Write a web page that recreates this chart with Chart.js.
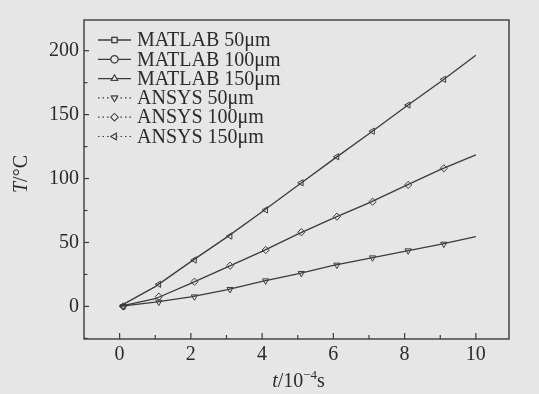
<!DOCTYPE html>
<html><head><meta charset="utf-8">
<script src="https://cdn.jsdelivr.net/npm/chart.js@4/dist/chart.umd.min.js"></script>
<style>html,body{margin:0;padding:0;background:#e7e7e7}#w{width:539px;height:394px;position:relative}</style>
</head><body><div id="w"><canvas id="c"></canvas></div>
<script>
// ---- data (time in 10^-4 s, temperature in °C) ----
const matlabTime = [0, 1, 2, 3, 4, 5, 6, 7, 8, 9, 10];
const matlab50  = [0, 3.3, 7.5, 13, 19.5, 25.5, 32, 37.5, 43, 48.5, 54.5];
const matlab100 = [0, 6, 18, 30.5, 43, 56.5, 69, 81, 94, 107, 118.5];
const matlab150 = [0, 15.5, 35, 54, 74, 94.5, 115, 135, 155.5, 175.5, 196.5];
const ansysTime = [0.1, 1.1, 2.1, 3.1, 4.1, 5.1, 6.1, 7.1, 8.1, 9.1];
const ansys50  = [0, 3.5, 7.6, 13.4, 20.1, 25.9, 32.4, 38.1, 43.6, 48.8];
const ansys100 = [0, 7.6, 19.3, 31.8, 44.1, 58, 70.2, 81.9, 95, 108];
const ansys150 = [0, 17.3, 36.3, 55, 75.5, 96.7, 117, 137, 157.5, 177.6];
const seriesLabels = ['MATLAB 50μm', 'MATLAB 100μm', 'MATLAB 150μm', 'ANSYS 50μm', 'ANSYS 100μm', 'ANSYS 150μm'];
const xTickValues = [0, 1, 2, 3, 4, 5, 6, 7, 8, 9, 10];
const xTickLabels = ['0', '', '2', '', '4', '', '6', '', '8', '', '10'];
const yTickValues = [-25, 0, 25, 50, 75, 100, 125, 150, 175, 200];
const yTickLabels = ['', '0', '', '50', '', '100', '', '150', '', '200'];

const INK = '#3b3b3b';
const FONT = '"Liberation Serif", "Times New Roman", serif';
const pts = (xs, ys) => xs.map((x, i) => ({x, y: ys[i]}));

const styles = [
  {pointStyle: 'rect', rotation: 0, dash: []},
  {pointStyle: 'circle', rotation: 0, dash: []},
  {pointStyle: 'triangle', rotation: 0, dash: []},
  {pointStyle: 'triangle', rotation: 180, dash: [1.5, 3]},
  {pointStyle: 'rectRot', rotation: 0, dash: [1.5, 3]},
  {pointStyle: 'triangle', rotation: -90, dash: [1.5, 3]},
];
const seriesData = [
  pts(matlabTime, matlab50), pts(matlabTime, matlab100), pts(matlabTime, matlab150),
  pts(ansysTime, ansys50), pts(ansysTime, ansys100), pts(ansysTime, ansys150)
];

const datasets = seriesData.map((d, i) => ({
  label: seriesLabels[i],
  data: d,
  borderColor: INK,
  backgroundColor: 'rgba(0,0,0,0)',
  borderWidth: i < 3 ? 1.3 : 1,
  borderDash: styles[i].dash,
  pointStyle: styles[i].pointStyle,
  rotation: styles[i].rotation,
  pointRadius: i < 3 ? 0 : 3.6,
  pointBorderWidth: 1,
  pointBorderColor: INK,
  showLine: i < 3,
  tension: 0
}));

const bgPlugin = {
  id: 'bg',
  beforeDraw(chart) {
    const c = chart.ctx;
    c.save(); c.fillStyle = '#e6e6e6'; c.fillRect(0, 0, chart.width, chart.height); c.restore();
  }
};

const framePlugin = {
  id: 'frame',
  afterDraw(chart) {
    const c = chart.ctx, a = chart.chartArea;
    const xs = chart.scales.x, ys = chart.scales.y;
    c.save();
    c.strokeStyle = INK; c.lineWidth = 1.4;
    c.strokeRect(a.left, a.top, a.right - a.left, a.bottom - a.top);
    c.lineWidth = 1.2;
    xTickValues.forEach((v, i) => {
      const px = xs.getPixelForValue(v);
      const len = xTickLabels[i] ? 6 : 4;
      c.beginPath(); c.moveTo(px, a.bottom); c.lineTo(px, a.bottom - len); c.stroke();
    });
    yTickValues.forEach((v, i) => {
      const py = ys.getPixelForValue(v);
      const len = yTickLabels[i] ? 5 : 3.5;
      c.beginPath(); c.moveTo(a.left, py); c.lineTo(a.left + len, py); c.stroke();
    });
    // axis titles
    c.fillStyle = '#2b2b2b';
    c.textBaseline = 'alphabetic';
    c.save();
    c.translate(27, 174);
    c.rotate(-Math.PI / 2);
    c.font = 'italic 20px ' + FONT;
    const wT = c.measureText('T').width;
    c.font = '20px ' + FONT;
    const wR = c.measureText('/°C').width;
    let x0 = -(wT + wR) / 2;
    c.font = 'italic 20px ' + FONT; c.fillText('T', x0, 0);
    c.font = '20px ' + FONT; c.fillText('/°C', x0 + wT, 0);
    c.restore();
    c.font = 'italic 20px ' + FONT;
    const w1 = c.measureText('t').width;
    c.font = '20px ' + FONT;
    const w2 = c.measureText('/10').width;
    c.font = '13px ' + FONT;
    const w3 = c.measureText('−4').width;
    c.font = '20px ' + FONT;
    const w4 = c.measureText('s').width;
    let x = (a.left + a.right) / 2 + 2 - (w1 + w2 + w3 + w4) / 2;
    const by = 387;
    c.font = 'italic 20px ' + FONT; c.fillText('t', x, by); x += w1;
    c.font = '20px ' + FONT; c.fillText('/10', x, by); x += w2;
    c.font = '13px ' + FONT; c.fillText('−4', x, by - 8); x += w3;
    c.font = '20px ' + FONT; c.fillText('s', x, by);
    c.restore();
  }
};

const legendPlugin = {
  id: 'customLegend',
  afterDraw(chart) {
    const c = chart.ctx, a = chart.chartArea;
    c.save();
    chart.data.datasets.forEach((ds, i) => {
      const cy = a.top + 20 + i * 19.3;
      const x1 = a.left + 14, x2 = a.left + 47, mx = (x1 + x2) / 2;
      c.strokeStyle = INK;
      c.lineWidth = i < 3 ? 1.3 : 1.2;
      c.setLineDash(i < 3 ? [] : [1.5, 3]);
      c.beginPath(); c.moveTo(x1, cy); c.lineTo(x2, cy); c.stroke();
      c.setLineDash([]);
      c.fillStyle = '#e6e6e6';
      Chart.helpers.drawPoint(c, {pointStyle: ds.pointStyle, rotation: ds.rotation, radius: 3.6, borderWidth: 1}, mx, cy);
      c.strokeStyle = INK; c.lineWidth = 1;
      c.fillStyle = '#e6e6e6';
      c.fill(); c.stroke();
      c.fillStyle = '#2b2b2b';
      c.font = '20px ' + FONT;
      c.textBaseline = 'middle';
      c.fillText(ds.label, x2 + 6, cy + 1);
    });
    c.restore();
  }
};

new Chart(document.getElementById('c'), {
  type: 'line',
  data: {datasets},
  options: {
    responsive: true,
    maintainAspectRatio: false,
    animation: false,
    layout: {padding: {left: 0, top: 20, right: 30, bottom: 0}},
    plugins: {legend: {display: false}, tooltip: {enabled: false}},
    scales: {
      x: {
        type: 'linear', min: -1, max: 10.93,
        afterBuildTicks: s => { s.ticks = xTickValues.map(v => ({value: v})); },
        afterFit: s => { s.height = 55; },
        grid: {display: false, drawTicks: false},
        border: {display: false},
        ticks: {
          autoSkip: false, maxRotation: 0, padding: 4, color: '#2b2b2b',
          font: {family: FONT, size: 20},
          callback: (v) => xTickLabels[xTickValues.indexOf(v)] ?? ''
        }
      },
      y: {
        type: 'linear', min: -25.5, max: 224,
        afterBuildTicks: s => { s.ticks = yTickValues.map(v => ({value: v})); },
        afterFit: s => { s.width = 84; },
        grid: {display: false, drawTicks: false},
        border: {display: false},
        ticks: {
          autoSkip: false, padding: 5, color: '#2b2b2b',
          font: {family: FONT, size: 20},
          callback: (v) => yTickLabels[yTickValues.indexOf(v)] ?? ''
        }
      }
    }
  },
  plugins: [bgPlugin, framePlugin, legendPlugin]
});
</script>
</body></html>
